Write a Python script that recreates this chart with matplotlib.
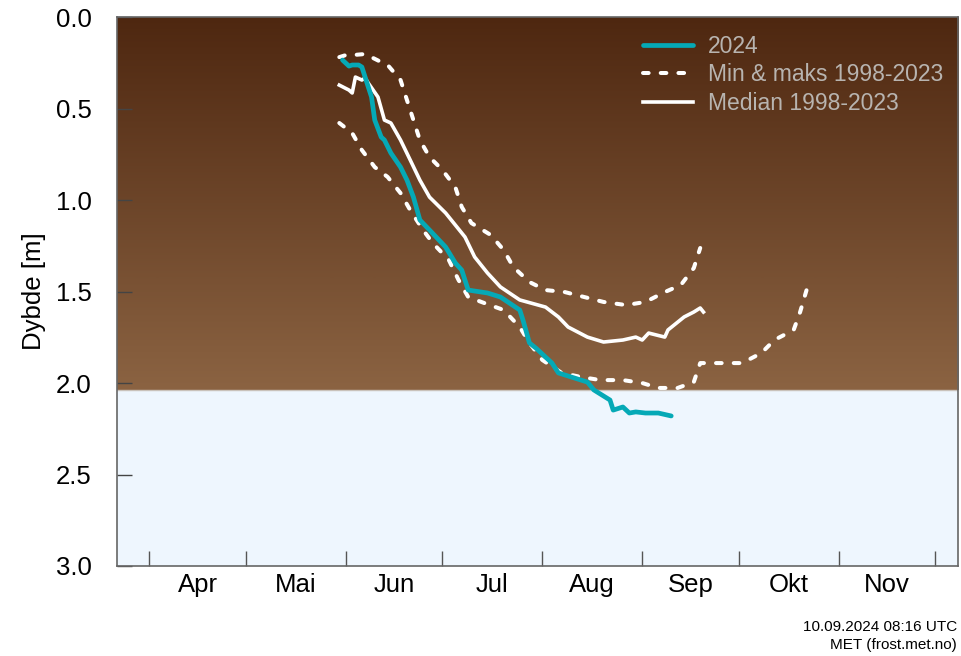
import matplotlib
matplotlib.use("Agg")
import matplotlib.pyplot as plt
import matplotlib.dates as mdates
import numpy as np
import pandas as pd
from matplotlib.colors import LinearSegmentedColormap

plt.rcParams["font.family"] = ["Liberation Sans", "DejaVu Sans"]

# ---------------------------------------------------------------------------
# Data (frost depth, m)
# ---------------------------------------------------------------------------
dates_2024 = ["2024-05-31", "2024-06-02", "2024-06-03", "2024-06-05", "2024-06-06",
              "2024-06-09", "2024-06-10", "2024-06-12", "2024-06-13", "2024-06-15",
              "2024-06-18", "2024-06-20", "2024-06-22", "2024-06-24", "2024-06-27",
              "2024-07-02", "2024-07-05", "2024-07-07", "2024-07-09", "2024-07-15",
              "2024-07-19", "2024-07-25", "2024-07-26", "2024-07-28", "2024-07-30",
              "2024-08-04", "2024-08-06", "2024-08-15", "2024-08-17", "2024-08-22",
              "2024-08-23", "2024-08-26", "2024-08-28", "2024-08-30", "2024-09-02",
              "2024-09-06", "2024-09-10"]
depth_2024 = [0.235, 0.268, 0.262, 0.262, 0.273, 0.437, 0.563, 0.656, 0.672, 0.743,
              0.820, 0.891, 0.984, 1.109, 1.164, 1.257, 1.344, 1.383, 1.492, 1.508,
              1.530, 1.601, 1.656, 1.781, 1.809, 1.891, 1.945, 1.995, 2.038, 2.093,
              2.148, 2.131, 2.164, 2.158, 2.164, 2.164, 2.180]

dates_median = ["2024-05-30", "2024-06-02", "2024-06-03", "2024-06-04", "2024-06-06",
                "2024-06-07", "2024-06-08", "2024-06-11", "2024-06-13", "2024-06-15",
                "2024-06-18", "2024-06-21", "2024-06-24", "2024-06-27", "2024-07-02",
                "2024-07-08", "2024-07-11", "2024-07-15", "2024-07-19", "2024-07-25",
                "2024-08-02", "2024-08-06", "2024-08-09", "2024-08-15", "2024-08-20",
                "2024-08-26", "2024-08-30", "2024-09-01", "2024-09-03", "2024-09-08",
                "2024-09-09", "2024-09-14", "2024-09-17", "2024-09-19", "2024-09-20"]
depth_median = [0.372, 0.399, 0.415, 0.328, 0.344, 0.333, 0.361, 0.437, 0.563, 0.579,
                0.672, 0.781, 0.891, 0.984, 1.071, 1.202, 1.311, 1.399, 1.475, 1.546,
                1.585, 1.639, 1.694, 1.749, 1.776, 1.765, 1.749, 1.765, 1.727, 1.749,
                1.710, 1.639, 1.612, 1.590, 1.612]

dates_max = ["2024-05-30", "2024-06-03", "2024-06-06", "2024-06-10", "2024-06-14",
             "2024-06-18", "2024-06-21", "2024-06-25", "2024-06-28", "2024-07-03",
             "2024-07-06", "2024-07-09", "2024-07-14", "2024-07-20", "2024-07-25",
             "2024-07-28", "2024-08-01", "2024-08-07", "2024-08-13", "2024-08-19",
             "2024-08-26", "2024-09-01", "2024-09-06", "2024-09-12", "2024-09-17",
             "2024-09-19", "2024-09-26", "2024-10-02", "2024-10-08", "2024-10-12",
             "2024-10-18", "2024-10-20", "2024-10-22"]
depth_max = [0.579, 0.634, 0.727, 0.820, 0.874, 0.962, 1.055, 1.164, 1.235, 1.328,
             1.437, 1.530, 1.563, 1.601, 1.694, 1.781, 1.874, 1.945, 1.967, 1.984,
             1.984, 2.000, 2.027, 2.027, 1.995, 1.891, 1.891, 1.891, 1.836, 1.765,
             1.710, 1.612, 1.492]

dates_min = ["2024-05-30", "2024-06-01", "2024-06-03", "2024-06-07", "2024-06-12",
             "2024-06-14", "2024-06-18", "2024-06-20", "2024-06-22", "2024-06-24",
             "2024-06-27", "2024-07-01", "2024-07-05", "2024-07-07", "2024-07-10",
             "2024-07-16", "2024-07-20", "2024-07-23", "2024-07-28", "2024-08-02",
             "2024-08-08", "2024-08-14", "2024-08-20", "2024-08-27", "2024-09-02",
             "2024-09-08", "2024-09-13", "2024-09-17", "2024-09-19"]
depth_min = [0.219, 0.208, 0.208, 0.202, 0.246, 0.262, 0.344, 0.454, 0.563, 0.672,
             0.765, 0.836, 0.929, 1.038, 1.126, 1.191, 1.273, 1.366, 1.448, 1.492,
             1.503, 1.530, 1.557, 1.574, 1.557, 1.503, 1.464, 1.372, 1.262]

month_starts = ["2024-04-01", "2024-05-01", "2024-06-01", "2024-07-01", "2024-08-01",
                "2024-09-01", "2024-10-01", "2024-11-01", "2024-12-01"]
month_labels = ["Apr", "Mai", "Jun", "Jul", "Aug", "Sep", "Okt", "Nov"]

ground_depth = 2.04
x_start, x_end = "2024-03-22", "2024-12-08"

# ---------------------------------------------------------------------------
# Figure
# ---------------------------------------------------------------------------
fig = plt.figure(figsize=(9.61, 6.56), dpi=100)
ax = fig.add_axes([0.1217, 0.1372, 0.8752, 0.8368])

x0 = mdates.date2num(pd.Timestamp(x_start))
x1 = mdates.date2num(pd.Timestamp(x_end))

ax.set_facecolor("#eef6fe")
soil = LinearSegmentedColormap.from_list("soil", ["#4e2710", "#8b6342"])
grad = np.linspace(0, 1, 256).reshape(-1, 1)
ax.imshow(grad, cmap=soil, aspect="auto", extent=[x0, x1, ground_depth, 0],
          origin="upper", zorder=0)
ax.axhline(ground_depth, color="#c9c2bb", lw=1.0, zorder=1)

dash = (0, (1.4, 3.0))
ax.plot(pd.to_datetime(dates_max), depth_max, color="white", lw=2.9,
        linestyle=dash, dash_capstyle="round", zorder=3)
ax.plot(pd.to_datetime(dates_min), depth_min, color="white", lw=2.9,
        linestyle=dash, dash_capstyle="round", zorder=3,
        label="Min & maks 1998-2023")
ax.plot(pd.to_datetime(dates_median), depth_median, color="white", lw=2.6,
        solid_joinstyle="round", zorder=3, label="Median 1998-2023")
ax.plot(pd.to_datetime(dates_2024), depth_2024, color="#05a9b6", lw=3.4,
        solid_joinstyle="round", solid_capstyle="round", zorder=4, label="2024")

ax.set_xlim(x0, x1)
ax.set_ylim(3.0, 0.0)

# x axis: ticks at month starts, labels mid-month
starts = pd.to_datetime(month_starts)
mids = [s + (e - s) / 2 for s, e in zip(starts[:-1], starts[1:])]
ax.set_xticks(starts)
ax.set_xticks(mids, minor=True)
ax.set_xticklabels([])
ax.set_xticklabels(month_labels, minor=True)
ax.tick_params(axis="x", which="major", direction="in", length=11, width=1,
               color="#555555")
ax.tick_params(axis="x", which="minor", length=0, pad=5, labelsize=18.5)

ax.set_yticks([0.0, 0.5, 1.0, 1.5, 2.0, 2.5, 3.0])
ax.set_yticklabels(["0.0", "0.5", "1.0", "1.5", "2.0", "2.5", "3.0"])
ax.tick_params(axis="y", direction="in", length=11, width=1, color="#444444",
               labelsize=18.5, pad=18)
ax.set_ylabel("Dybde [m]", fontsize=18.5, labelpad=7)

for side in ax.spines.values():
    side.set_color("#666666")
    side.set_linewidth(1.2)

handles, labels = ax.get_legend_handles_labels()
order = [2, 0, 1]
leg = ax.legend([handles[i] for i in order], [labels[i] for i in order],
                loc="upper left", frameon=False, fontsize=16.5,
                handlelength=2.2, handletextpad=0.65, labelspacing=0.25,
                borderpad=0, borderaxespad=0,
                bbox_to_anchor=(0.625, 0.968))
for t in leg.get_texts():
    t.set_color("#b8b4b0")

fig.text(0.996, 0.044, "10.09.2024 08:16 UTC", ha="right", va="center", fontsize=11)
fig.text(0.996, 0.017, "MET (frost.met.no)", ha="right", va="center", fontsize=11)

plt.savefig("out.png", dpi=100)
